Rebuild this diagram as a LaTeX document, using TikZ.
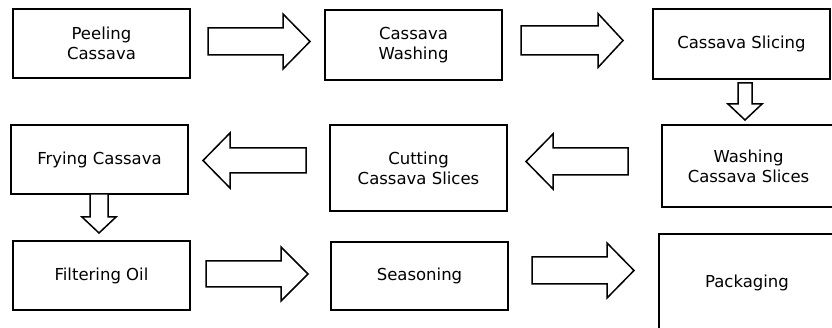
\documentclass[tikz,border=0pt]{standalone}
\usepackage{fontspec}
\setmainfont{DejaVu Sans}
\newcommand\hbarrow[6]{% tail x, tip x, centre y, shaft half, head half, head base x
  \draw[barrow] (#1,#3-#4) -- (#6,#3-#4) -- (#6,#3-#5) -- (#2,#3) -- (#6,#3+#5) -- (#6,#3+#4) -- (#1,#3+#4) -- cycle;}
\newcommand\vbarrow[6]{% tail y, tip y, centre x, shaft half, head half, head base y
  \draw[barrow] (#3-#4,#1) -- (#3-#4,#6) -- (#3-#5,#6) -- (#3,#2) -- (#3+#5,#6) -- (#3+#4,#6) -- (#3+#4,#1) -- cycle;}
\tikzset{
  stepbox/.style={draw=black, line width=2pt, fill=white, align=center, inner sep=0pt,
    font=\fontsize{16.5}{20}\selectfont},
  barrow/.style={draw=black, line width=1.5pt, fill=white, line join=miter}
}
\begin{document}
\begin{tikzpicture}[x=1pt, y=-1pt]
\path[use as bounding box, clip] (0,0) rectangle (832,328);
\fill[white] (0,0) rectangle (832,328);
% row 1
\node[stepbox, minimum width=177pt, minimum height=69pt] (peel) at (101.5,43.5) {Peeling\\Cassava};
\node[stepbox, minimum width=177pt, minimum height=70pt] (wash) at (413.5,45) {Cassava\\Washing};
\node[stepbox, minimum width=177pt, minimum height=70pt] (slice) at (741.5,44) {Cassava Slicing};
% row 2
\node[stepbox, minimum width=177pt, minimum height=69pt] (fry) at (99.5,159.5) {Frying Cassava};
\node[stepbox, minimum width=177pt, minimum height=86pt] (cut) at (418.5,168) {Cutting\\Cassava Slices};
\node[stepbox, minimum width=173pt, minimum height=82pt] (wslice) at (748.5,166) {Washing\\Cassava Slices};
% row 3
\node[stepbox, minimum width=177pt, minimum height=69pt] (filter) at (101.5,275.5) {Filtering Oil};
\node[stepbox, minimum width=177pt, minimum height=68pt] (season) at (419.5,276) {Seasoning};
\node[stepbox, minimum width=176pt, minimum height=98pt] (pack) at (747,283) {Packaging};
% block arrows
\hbarrow{208}{310}{41.5}{13.5}{27.5}{283}
\hbarrow{521}{623}{40.5}{14.5}{27}{598}
\vbarrow{83}{120}{745}{7}{17}{104}
\hbarrow{628}{526}{161.5}{13.5}{27.5}{553}
\hbarrow{306}{203}{160.5}{12.5}{27.5}{230}
\vbarrow{194}{233}{99}{9}{17}{217}
\hbarrow{206}{308}{274}{13}{27}{281}
\hbarrow{532}{634}{270.5}{13.5}{27.5}{607}
\end{tikzpicture}
\end{document}
